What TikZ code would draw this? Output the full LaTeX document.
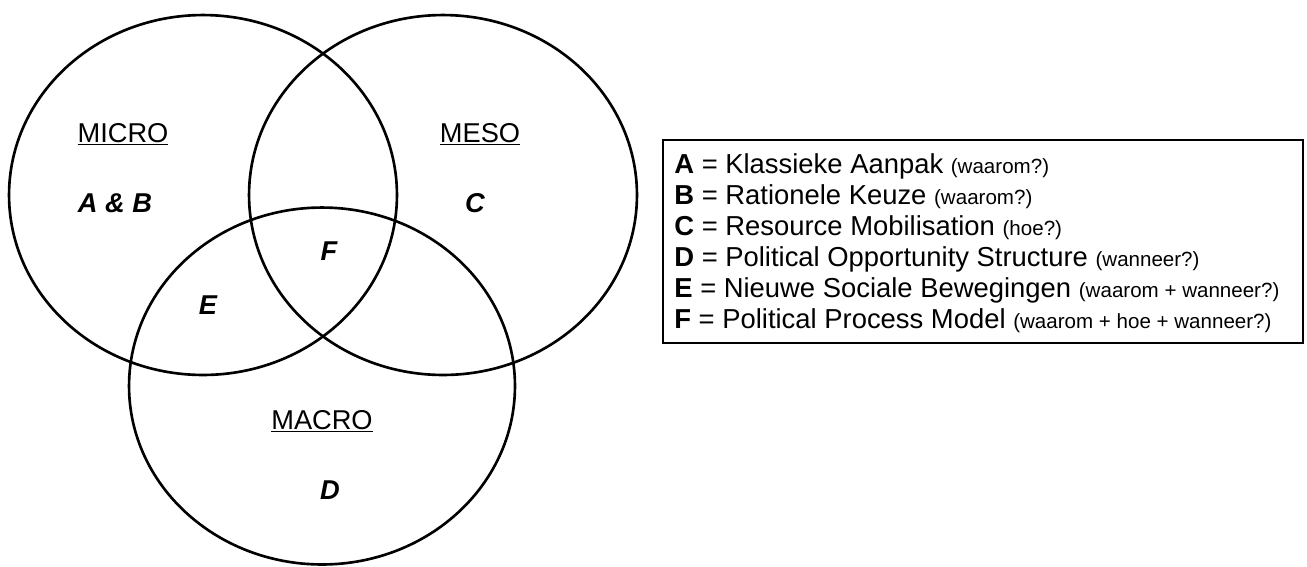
\documentclass[tikz,border=0pt]{standalone}
\usepackage{fontspec}
\setmainfont{Liberation Sans}
\usetikzlibrary{positioning}

\newcommand{\qnote}[1]{{\fontsize{11.7}{14}\selectfont #1}}

\begin{document}
\begin{tikzpicture}[x=0.02cm, y=-0.02cm,
    venn/.style={line width=1.5pt, black},
    scalelabel/.style={anchor=base, inner sep=0pt, font=\fontsize{15.5}{18}\selectfont},
    zonelabel/.style={anchor=base, inner sep=0pt, font=\fontsize{15.5}{18}\selectfont\bfseries\itshape},
    legitem/.style={anchor=base west, inner sep=0pt, font=\fontsize{15.6}{18}\selectfont}]
  \useasboundingbox (0,0) rectangle (1307,566);

  % the three levels
  \draw[venn] (203,195) ellipse [x radius=3.88cm, y radius=3.6cm];
  \draw[venn] (443,195) ellipse [x radius=3.88cm, y radius=3.6cm];
  \draw[venn] (322,386) ellipse [x radius=3.86cm, y radius=3.57cm];

  \node[scalelabel] (micro) at (123,142) {\underline{MICRO}};
  \node[scalelabel] (meso) at (480,142) {\underline{MESO}};
  \node[scalelabel] (macro) at (322,429) {\underline{MACRO}};

  \node[zonelabel] (ab) at (115,212) {A \& B};
  \node[zonelabel] (c) at (475,212) {C};
  \node[zonelabel] (f) at (329,260) {F};
  \node[zonelabel] (e) at (208,314) {E};
  \node[zonelabel] (d) at (330,499) {D};

  % legend
  \node[draw, line width=1.2pt, minimum width=12.8cm, minimum height=4.06cm,
        anchor=north west, inner sep=0pt] (legend) at (662,139) {};
  \node[legitem] (la) at (674,173) {\textbf{A} = Klassieke Aanpak \qnote{(waarom?)}};
  \node[legitem] (lb) at (674,204) {\textbf{B} = Rationele Keuze \qnote{(waarom?)}};
  \node[legitem] (lc) at (674,235) {\textbf{C} = Resource Mobilisation \qnote{(hoe?)}};
  \node[legitem] (ld) at (674,266) {\textbf{D} = Political Opportunity Structure \qnote{(wanneer?)}};
  \node[legitem] (le) at (674,297) {\textbf{E} = Nieuwe Sociale Bewegingen \qnote{(waarom + wanneer?)}};
  \node[legitem] (lf) at (674,328) {\textbf{F} = Political Process Model \qnote{(waarom + hoe + wanneer?)}};
\end{tikzpicture}
\end{document}
